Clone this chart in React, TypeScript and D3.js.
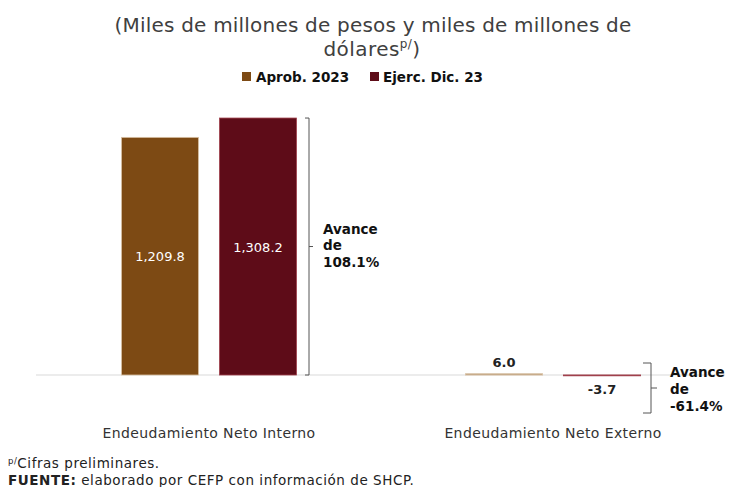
import React from "react";
import * as d3 from "d3";

const categories = ["Endeudamiento Neto Interno", "Endeudamiento Neto Externo"];
const seriesNames = ["Aprob. 2023", "Ejerc. Dic. 23"];
const aprob2023 = [1209.8, 6.0];
const ejercDic23 = [1308.2, -3.7];
const valueLabels = [["1,209.8", "1,308.2"], ["6.0", "-3.7"]];
const avance = ["108.1%", "-61.4%"];

const W = 731;
const H = 487;
const FONT = "'DejaVu Sans', sans-serif";
const COLORS = ["#7D4A14", "#5E0C18"];
const STROKES = ["#D9C2A6", "#A0404C"];

export default function App() {
  const x = d3.scaleBand<string>().domain(categories).range([37, 725]).padding(0);
  const inner = d3
    .scaleBand<string>()
    .domain(seriesNames)
    .range([-87.5, 87.5])
    .paddingInner(0.214)
    .paddingOuter(0);
  const y = d3.scaleLinear().domain([0, 1400]).range([375, 100]);
  const y0 = y(0);
  const series = [aprob2023, ejercDic23];

  return (
    <svg
      width={W}
      height={H}
      style={{ position: "absolute", left: 0, top: 0, background: "#fff" }}
      fontFamily={FONT}
    >
      {/* Title */}
      <text x={373} y={32} textAnchor="middle" fontSize={20} letterSpacing={0.2} fill="#404040">
        (Miles de millones de pesos y miles de millones de
      </text>
      <text x={372} y={56} textAnchor="middle" fontSize={20} letterSpacing={0.45} fill="#404040">
        dólares
        <tspan fontSize={12} dy={-8}>p/</tspan>
        <tspan dy={8}>)</tspan>
      </text>

      {/* Legend */}
      <rect x={242} y={72} width={9} height={9} fill={COLORS[0]} />
      <text x={256} y={81.5} fontSize={13.5} fontWeight="bold" fill="#111">
        {seriesNames[0]}
      </text>
      <rect x={370} y={72} width={9} height={9} fill={COLORS[1]} />
      <text x={383} y={81.5} fontSize={13.5} fontWeight="bold" fill="#111">
        {seriesNames[1]}
      </text>

      {/* Baseline */}
      <line x1={36} x2={725} y1={y0} y2={y0} stroke="#D9D9D9" strokeWidth={1} />

      {/* Bars */}
      {categories.map((c, ci) => {
        const cx = (x(c) as number) + x.bandwidth() / 2;
        return (
          <g key={c}>
            {seriesNames.map((s, si) => {
              const v = series[si][ci];
              const bx = cx + (inner(s) as number);
              const top = Math.min(y(v), y0);
              const h = Math.max(Math.abs(y(v) - y0), 0.5);
              return (
                <rect
                  key={s}
                  x={bx}
                  y={top}
                  width={inner.bandwidth()}
                  height={h}
                  fill={COLORS[si]}
                  stroke={STROKES[si]}
                  strokeWidth={ci === 0 ? 0.8 : 1}
                />
              );
            })}
          </g>
        );
      })}

      {/* Value labels, group 1 (inside bars) */}
      {seriesNames.map((s, si) => {
        const cx = (x(categories[0]) as number) + x.bandwidth() / 2 + (inner(s) as number) + inner.bandwidth() / 2;
        const mid = (y(series[si][0]) + y0) / 2;
        return (
          <text key={s} x={cx} y={mid + 5} textAnchor="middle" fontSize={13} fill="#fff">
            {valueLabels[0][si]}
          </text>
        );
      })}

      {/* Value labels, group 2 (outside) */}
      {seriesNames.map((s, si) => {
        const cx = (x(categories[1]) as number) + x.bandwidth() / 2 + (inner(s) as number) + inner.bandwidth() / 2;
        const v = series[si][1];
        const ly = v >= 0 ? y(v) - 7 : y(v) + 18;
        return (
          <text key={s} x={cx} y={ly} textAnchor="middle" fontSize={13} fontWeight="bold" fill="#222">
            {valueLabels[1][si]}
          </text>
        );
      })}

      {/* Bracket 1 */}
      {(() => {
        const top = y(ejercDic23[0]);
        const bx = 309;
        const mid = (top + y0) / 2;
        return (
          <g>
            <path
              d={`M${bx - 4},${top} H${bx} V${y0} H${bx - 4} M${bx},${mid} H${bx + 4}`}
              fill="none"
              stroke="#555"
              strokeWidth={1}
            />
            <text x={323} y={mid - 13} fontSize={13.5} fontWeight="bold" fill="#111">
              <tspan x={323}>Avance</tspan>
              <tspan x={323} dy={16.5}>de</tspan>
              <tspan x={323} dy={16.5}>{avance[0]}</tspan>
            </text>
          </g>
        );
      })()}

      {/* Bracket 2 */}
      {(() => {
        const top = y0 - 12;
        const bot = y0 + 38;
        const bx = 651;
        const mid = (top + bot) / 2;
        return (
          <g>
            <path
              d={`M${bx - 8},${top} H${bx} V${bot} H${bx - 8} M${bx},${mid} H${bx + 6}`}
              fill="none"
              stroke="#555"
              strokeWidth={1}
            />
            <text x={670} y={y0 + 2} fontSize={13.5} fontWeight="bold" fill="#111">
              <tspan x={670}>Avance</tspan>
              <tspan x={670} dy={17}>de</tspan>
              <tspan x={670} dy={17}>{avance[1]}</tspan>
            </text>
          </g>
        );
      })()}

      {/* Category labels */}
      {categories.map((c) => (
        <text
          key={c}
          x={(x(c) as number) + x.bandwidth() / 2}
          y={438}
          textAnchor="middle"
          fontSize={14}
          letterSpacing={0.4}
          fill="#333"
        >
          {c}
        </text>
      ))}

      {/* Footnotes */}
      <text x={8} y={468} fontSize={13.5} letterSpacing={0.55} fill="#222">
        <tspan fontSize={8.5} dy={-4}>p/</tspan>
        <tspan dy={4}>Cifras preliminares.</tspan>
      </text>
      <text x={8} y={485} fontSize={13.5} letterSpacing={0.55} fill="#222">
        <tspan fontWeight="bold">FUENTE:</tspan>
        <tspan> elaborado por CEFP con información de SHCP.</tspan>
      </text>
    </svg>
  );
}
